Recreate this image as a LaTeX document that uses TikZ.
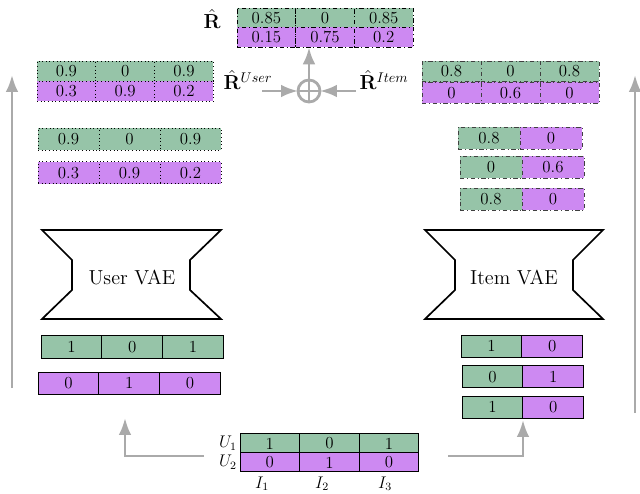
\documentclass[tikz,border=0pt]{standalone}
\usepackage{amsmath}
\usepackage{amsfonts}
\usepackage{bm}
\usepackage{tikz}
\usetikzlibrary{arrows.meta,positioning}

\definecolor{cellgreen}{RGB}{150,196,168}
\definecolor{cellpurple}{RGB}{205,137,242}
\definecolor{flowgray}{RGB}{170,170,170}

\begin{document}
\begin{tikzpicture}[
    cell/.style={draw, semithick, font=\large, inner sep=0pt, outer sep=0pt, minimum width=1.47cm, minimum height=0.5cm},
    gcell/.style={cell, fill=cellgreen},
    pcell/.style={cell, fill=cellpurple},
    flow/.style={draw=flowgray, line width=2pt, -{Latex}},
    tag/.style={font=\Large, inner sep=0pt},
  ]
    \useasboundingbox (0, 0) rectangle (16, 12.325);

    % input ratings
    \foreach \v [count=\i] in {1,0,1}
      \node [gcell, minimum width=1.49cm, minimum height=0.475cm] (ing\i) at ({6.0+1.49*(\i-0.5)}, 1.24) {\v};
    \foreach \v [count=\i] in {0,1,0}
      \node [pcell, minimum width=1.49cm, minimum height=0.475cm] (inp\i) at ({6.0+1.49*(\i-0.5)}, 0.765) {\v};

    \node [font=\large, inner sep=0pt, left=2pt of ing1] (u1) {$U_1$};
    \node [font=\large, inner sep=0pt, left=2pt of inp1] (u2) {$U_2$};
    \node [font=\large] (i1) at (6.55, 0.23) {$I_1$};
    \node [font=\large] (i2) at (8.05, 0.23) {$I_2$};
    \node [font=\large] (i3) at (9.625, 0.23) {$I_3$};

    % split into users and items
    \coordinate (ustart) at (5.1, 0.925);
    \coordinate (utip) at (3.125, 1.875);
    \coordinate (istart) at (11.2, 0.925);
    \coordinate (itip) at (13.075, 1.825);
    \draw [flow] (ustart) -| (utip);
    \draw [flow] (istart) -| (itip);

    % user rows
    \foreach \v [count=\i] in {1,0,1}
      \node [gcell, minimum width=1.52cm, minimum height=0.575cm] (uxg\i) at ({1.025+1.52*(\i-0.5)}, 3.66) {\v};
    \foreach \v [count=\i] in {0,1,0}
      \node [pcell, minimum width=1.52cm, minimum height=0.55cm] (uxp\i) at ({0.95+1.52*(\i-0.5)}, 2.75) {\v};

    % item rows
    \foreach \a/\b/\x/\y [count=\r] in {1/0/11.525/3.675, 0/1/11.55/2.91, 1/0/11.55/2.15} {
      \node [gcell, minimum width=1.52cm, minimum height=0.55cm] (ixg\r) at ({\x+0.76}, \y) {\a};
      \node [pcell, minimum width=1.52cm, minimum height=0.55cm, right=0pt of ixg\r] (ixp\r) {\b};
    }

    % the two VAEs
    \draw [very thick] (1.05, 6.575) -- (5.525, 6.575) -- (4.75, 5.825) -- (4.75, 5.075)
      -- (5.525, 4.35) -- (1.05, 4.35) -- (1.8, 5.075) -- (1.8, 5.825) -- cycle;
    \node [font=\Large] (uvae) at (3.3, 5.4) {User VAE};

    \draw [very thick] (10.625, 6.575) -- (15.075, 6.575) -- (14.325, 5.825) -- (14.325, 5.075)
      -- (15.075, 4.35) -- (10.625, 4.35) -- (11.375, 5.075) -- (11.375, 5.825) -- cycle;
    \node [font=\Large] (ivae) at (12.85, 5.4) {Item VAE};

    % user reconstruction
    \foreach \v [count=\i] in {0.9,0,0.9}
      \node [gcell, dotted, minimum width=1.525cm, minimum height=0.55cm] (uyg\i) at ({0.95+1.525*(\i-0.5)}, 8.85) {\v};
    \foreach \v [count=\i] in {0.3,0.9,0.2}
      \node [pcell, dotted, minimum width=1.525cm, minimum height=0.55cm] (uyp\i) at ({0.95+1.525*(\i-0.5)}, 8.01) {\v};

    % item reconstruction
    \foreach \a/\b/\x/\y [count=\r] in {0.8/0/11.45/8.875, 0/0.6/11.5/8.14, 0.8/0/11.5/7.35} {
      \node [gcell, dashdotted, draw=black!75, minimum width=1.55cm, minimum height=0.55cm] (iyg\r) at ({\x+0.775}, \y) {\a};
      \node [pcell, dashdotted, draw=black!75, minimum width=1.55cm, minimum height=0.55cm, right=0pt of iyg\r] (iyp\r) {\b};
    }

    % long feedback arrows
    \coordinate (lbot) at (0.3, 2.625);
    \coordinate (ltop) at (0.3, 10.45);
    \coordinate (rbot) at (15.875, 2.0);
    \coordinate (rtop) at (15.875, 10.45);
    \draw [flow] (lbot) -- (ltop);
    \draw [flow] (rbot) -- (rtop);

    % R^User
    \foreach \v [count=\i] in {0.9,0,0.9}
      \node [gcell, dotted] (rug\i) at ({0.925+1.47*(\i-0.5)}, 10.55) {\v};
    \foreach \v [count=\i] in {0.3,0.9,0.2}
      \node [pcell, dotted] (rup\i) at ({0.925+1.47*(\i-0.5)}, 10.04) {\v};

    % R^Item
    \foreach \v [count=\i] in {0.8,0,0.8}
      \node [gcell, dashdotted, draw=black!75, minimum width=1.475cm, minimum height=0.52cm] (rig\i) at ({10.55+1.475*(\i-0.5)}, 10.54) {\v};
    \foreach \v [count=\i] in {0,0.6,0}
      \node [pcell, dashdotted, draw=black!75, minimum width=1.475cm, minimum height=0.52cm] (rip\i) at ({10.55+1.475*(\i-0.5)}, 10.01) {\v};

    % sum
    \node [circle, draw=flowgray, line width=2pt, inner sep=0pt, outer sep=0pt, minimum size=0.55cm] (sum) at (7.725, 10.05) {};
    \draw [flowgray, line width=2pt] (sum.north) -- (sum.south) (sum.west) -- (sum.east);

    \node [tag] (ruser) at (6.2, 10.33) {$\hat{\mathbf{R}}^{User}$};
    \node [tag] (ritem) at (9.6, 10.33) {$\hat{\mathbf{R}}^{Item}$};
    \coordinate (uin) at (6.55, 10.05);
    \coordinate (iin) at (8.9, 10.05);
    \draw [flow] (uin) -- (sum.west);
    \draw [flow] (iin) -- (sum.east);

    % R hat
    \foreach \v [count=\i] in {0.85,0,0.85}
      \node [gcell, dashdotted] (rhg\i) at ({5.925+1.467*(\i-0.5)}, 11.875) {\v};
    \foreach \v [count=\i] in {0.15,0.75,0.2}
      \node [pcell, dashdotted] (rhp\i) at ({5.925+1.467*(\i-0.5)}, 11.39) {\v};
    \node [tag] (rhat) at (5.3, 11.85) {$\hat{\mathbf{R}}$};
    \draw [flow] (sum.north) -- (sum.north |- rhp1.south);

\end{tikzpicture}
\end{document}
